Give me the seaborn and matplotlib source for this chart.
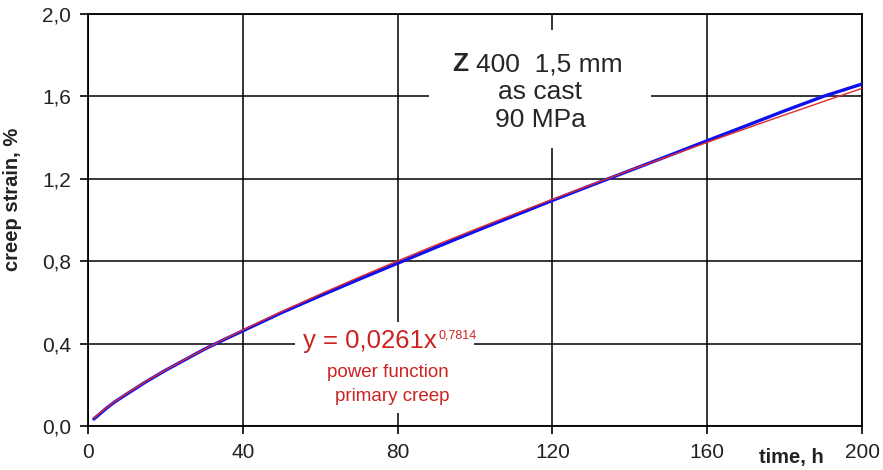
import matplotlib
matplotlib.use("Agg")
import matplotlib.pyplot as plt
import seaborn as sns
import pandas as pd
from matplotlib.patches import Rectangle

# ---- data ----
time_h = [1.5, 3, 5, 7, 10, 15, 20, 25, 30, 35, 40, 50, 60, 70, 80, 90, 100,
          110, 120, 130, 140, 150, 160, 170, 180, 190, 200]
strain_measured = [0.034, 0.058, 0.09, 0.118, 0.155, 0.215, 0.27, 0.321, 0.372,
                   0.418, 0.462, 0.55, 0.632, 0.712, 0.79, 0.868, 0.945, 1.02,
                   1.095, 1.168, 1.24, 1.312, 1.385, 1.457, 1.53, 1.60, 1.66]
strain_fit = [0.036, 0.062, 0.092, 0.119, 0.158, 0.217, 0.271, 0.323, 0.372,
              0.420, 0.466, 0.555, 0.640, 0.722, 0.801, 0.879, 0.954, 1.028,
              1.100, 1.171, 1.241, 1.309, 1.377, 1.444, 1.510, 1.575, 1.639]

x_ticks = [0, 40, 80, 120, 160, 200]
x_tick_labels = ["0", "40", "80", "120", "160", "200"]
y_ticks = [0.0, 0.4, 0.8, 1.2, 1.6, 2.0]
y_tick_labels = ["0,0", "0,4", "0,8", "1,2", "1,6", "2,0"]

title_lines = ["Z", "400  1,5 mm", "as cast", "90 MPa"]
fit_lines = ["y = 0,0261x", "0,7814", "power function", "primary creep"]

df = pd.DataFrame({"time": time_h, "measured": strain_measured, "fit": strain_fit})

sns.set_theme(style="white")
plt.rcParams["font.family"] = ["Liberation Sans", "DejaVu Sans"]

fig = plt.figure(figsize=(8.83, 4.70), dpi=100)
ax = fig.add_axes([88 / 883, 44 / 470, 774 / 883, 412 / 470])

ax.set_xlim(0, 200)
ax.set_ylim(0, 2.0)
ax.set_xticks(x_ticks)
ax.set_xticklabels(x_tick_labels)
ax.set_yticks(y_ticks)
ax.set_yticklabels(y_tick_labels)
ax.grid(True, color="black", linewidth=1.1, zorder=0)
ax.set_axisbelow(True)
for s in ax.spines.values():
    s.set_color("black")
    s.set_linewidth(1.3)
ax.tick_params(axis="both", direction="out", length=6, width=1.2, color="black",
               labelsize=15, labelcolor="#222222", pad=6, left=True, bottom=True)

# white backgrounds behind annotations (hide grid lines)
ax.add_patch(Rectangle((0.4406, 0.6748), 0.2868, 0.2864, transform=ax.transAxes,
                       facecolor="white", edgecolor="none", zorder=1))
ax.add_patch(Rectangle((0.2674, 0.0316), 0.2313, 0.2208, transform=ax.transAxes,
                       facecolor="white", edgecolor="none", zorder=1))

sns.lineplot(data=df, x="time", y="measured", ax=ax, color="#1010ee",
             linewidth=2.4, zorder=3)
sns.lineplot(data=df, x="time", y="fit", ax=ax, color="#e02a2a",
             linewidth=1.0, zorder=4)

ax.set_xlabel("")
ax.set_ylabel("creep strain, %", fontsize=14.5, fontweight="bold", color="#222222")
ax.yaxis.set_label_coords(-0.0853, 0.549)
fig.text(791 / 883, 12 / 470, "time, h", fontsize=14.5, fontweight="bold",
         color="#222222", ha="center", va="center")

# title block
ax.text(94.0, 1.757, title_lines[0], fontsize=19, fontweight="bold", ha="left",
        va="center", zorder=5)
ax.text(100.3, 1.757, title_lines[1], fontsize=19, ha="left", va="center", zorder=5)
ax.text(116.8, 1.621, title_lines[2], fontsize=19, ha="center", va="center", zorder=5)
ax.text(116.8, 1.485, title_lines[3], fontsize=19, ha="center", va="center", zorder=5)

# fit annotation
red = "#cc2222"
ax.text(90.1, 0.379, fit_lines[0], fontsize=18.5, color=red, ha="right",
        va="baseline", zorder=5)
ax.text(90.6, 0.427, fit_lines[1], fontsize=9, color=red, ha="left",
        va="baseline", zorder=5)
ax.text(77.5, 0.262, fit_lines[2], fontsize=13.5, color=red, ha="center",
        va="center", zorder=5)
ax.text(78.7, 0.141, fit_lines[3], fontsize=13.5, color=red, ha="center",
        va="center", zorder=5)

fig.savefig("out.png", dpi=100)
